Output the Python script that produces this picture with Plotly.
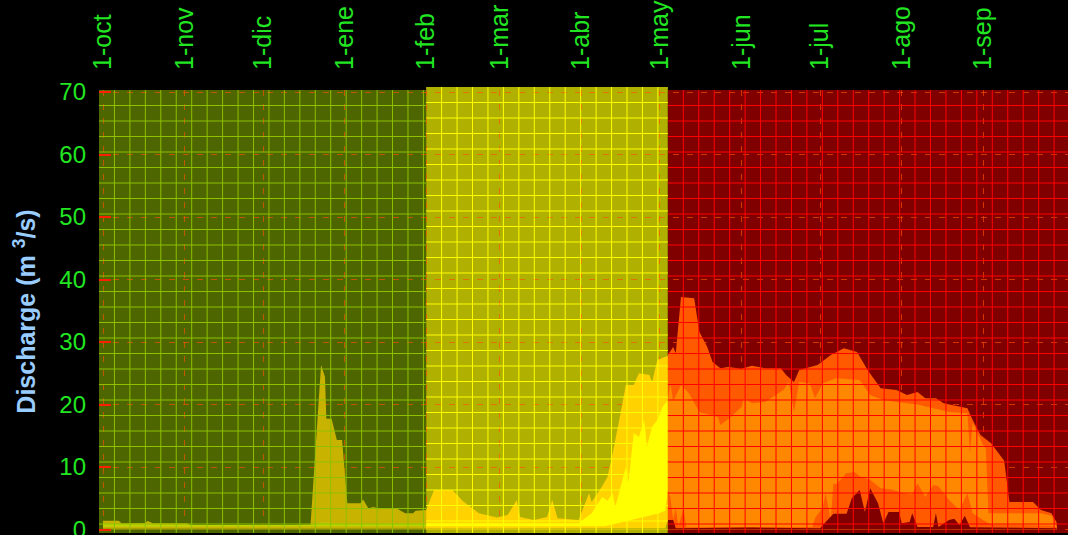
import plotly.graph_objects as go
from datetime import datetime, timedelta

# ---------------- axis labels ----------------
month_ticks = ["2022-10-01", "2022-11-01", "2022-12-01", "2023-01-01", "2023-02-01", "2023-03-01",
               "2023-04-01", "2023-05-01", "2023-06-01", "2023-07-01", "2023-08-01", "2023-09-01"]
month_labels = ["1-oct", "1-nov", "1-dic", "1-ene", "1-feb", "1-mar",
                "1-abr", "1-may", "1-jun", "1-jul", "1-ago", "1-sep"]
y_ticks = [0, 10, 20, 30, 40, 50, 60, 70]
y_title = "Discharge (m <sup>3</sup>/s)"

# season limits (green: oct-jan, yellow: feb-apr, red: may-sep)
season_edges = ["2022-09-29 11:30", "2023-02-01", "2023-05-04", "2023-10-03 07:00"]

# ---------------- green season ----------------
g_max_x = ["2022-10-01", "2022-10-07", "2022-10-08", "2022-10-17", "2022-10-18", "2022-10-20", "2022-11-02",
           "2022-11-04", "2022-11-20", "2022-12-05", "2022-12-19", "2022-12-23", "2022-12-24 12:00",
           "2022-12-25", "2022-12-27", "2022-12-29", "2022-12-31", "2023-01-02", "2023-01-07", "2023-01-08",
           "2023-01-10", "2023-01-12", "2023-01-14", "2023-01-21", "2023-01-24", "2023-01-27", "2023-01-28",
           "2023-02-01"]
g_max_y = [1.4, 1.4, 1.0, 1.05, 1.35, 1.0, 1.0, 0.6, 0.55, 0.6, 0.8, 26.3, 24.4, 17.7, 17.7, 14.3, 14.3,
           4.2, 4.2, 4.8, 3.4, 3.6, 3.3, 3.3, 2.6, 2.6, 3.0, 3.1]
g_q75_x = ["2022-10-01", "2022-10-20", "2022-11-04", "2022-12-19", "2022-12-23", "2023-01-02", "2023-02-01"]
g_q75_y = [0.9, 0.8, 0.7, 0.7, 1.1, 0.9, 1.0]
g_q25_x = ["2022-10-01", "2023-02-01"]
g_q25_y = [0.45, 0.5]
g_min_x = ["2022-10-01", "2023-02-01"]
g_min_y = [0.1, 0.1]

# ---------------- yellow season ----------------
y_max_x = ["2023-02-01", "2023-02-04", "2023-02-11", "2023-02-15", "2023-02-18", "2023-02-21", "2023-02-28",
           "2023-03-04", "2023-03-07 12:00", "2023-03-08 18:00", "2023-03-14", "2023-03-19", "2023-03-21",
           "2023-03-23", "2023-03-31", "2023-04-04", "2023-04-05", "2023-04-09", "2023-04-11", "2023-04-13",
           "2023-04-16", "2023-04-18", "2023-04-21", "2023-04-23", "2023-04-27", "2023-04-28", "2023-04-30",
           "2023-05-04"]
y_max_y = [3.1, 6.3, 6.3, 4.5, 3.6, 2.6, 1.9, 2.3, 4.7, 2.0, 1.5, 2.0, 4.7, 1.8, 1.5, 5.8, 4.4, 6.9, 8.4,
           12.2, 18.6, 23.1, 23.1, 25.0, 24.7, 23.6, 27.1, 27.8]
y_q75_x = ["2023-02-01", "2023-03-31", "2023-04-05", "2023-04-09", "2023-04-11", "2023-04-13", "2023-04-14",
           "2023-04-16", "2023-04-18", "2023-04-19", "2023-04-21", "2023-04-23", "2023-04-25", "2023-04-26",
           "2023-04-28", "2023-04-30", "2023-05-02", "2023-05-04"]
y_q75_y = [1.0, 1.0, 2.6, 5.2, 4.6, 5.8, 3.6, 6.9, 10.0, 7.5, 15.4, 14.8, 17.5, 13.2, 16.4, 17.5, 19.6, 20.7]
y_q25_x = ["2023-02-01", "2023-04-10", "2023-04-20", "2023-04-30", "2023-05-03", "2023-05-04"]
y_q25_y = [0.5, 0.5, 1.5, 2.5, 3.0, 6.3]
y_min_x = ["2023-02-01", "2023-05-03", "2023-05-04"]
y_min_y = [0.15, 0.2, 1.5]

# ---------------- red season ----------------
r_max_x = ["2023-05-04", "2023-05-06", "2023-05-07", "2023-05-09", "2023-05-14", "2023-05-16", "2023-05-19",
           "2023-05-21", "2023-05-24", "2023-05-27", "2023-06-01", "2023-06-05", "2023-06-10", "2023-06-16",
           "2023-06-18", "2023-06-21", "2023-06-23", "2023-06-30", "2023-07-05", "2023-07-10", "2023-07-15",
           "2023-07-19", "2023-07-24", "2023-07-30", "2023-08-03", "2023-08-07", "2023-08-10", "2023-08-14",
           "2023-08-17", "2023-08-26", "2023-08-28", "2023-08-31", "2023-09-04", "2023-09-08", "2023-09-09",
           "2023-09-11", "2023-09-20", "2023-09-23", "2023-09-27", "2023-09-29"]
r_max_y = [27.9, 29.2, 28.2, 37.2, 37.0, 31.6, 29.2, 26.8, 25.8, 26.0, 25.7, 26.2, 25.8, 25.8, 24.7, 23.6,
           25.5, 26.3, 27.9, 29.0, 28.4, 25.5, 22.6, 22.3, 21.5, 22.0, 21.0, 21.0, 20.2, 19.4, 17.5, 15.1,
           13.8, 11.6, 11.0, 4.4, 4.4, 3.1, 2.6, 1.1]
r_q75_x = ["2023-05-04", "2023-05-05", "2023-05-06", "2023-05-09", "2023-05-12", "2023-05-16", "2023-05-23",
           "2023-05-24", "2023-05-28", "2023-06-01", "2023-06-02", "2023-06-05", "2023-06-10", "2023-06-17",
           "2023-06-19", "2023-06-21", "2023-06-23", "2023-06-27", "2023-06-29", "2023-07-02", "2023-07-07",
           "2023-07-16", "2023-07-20", "2023-07-25", "2023-07-30", "2023-08-07", "2023-08-13", "2023-08-19",
           "2023-08-26", "2023-08-27", "2023-08-28", "2023-09-01", "2023-09-02", "2023-09-03", "2023-09-23",
           "2023-09-27", "2023-09-29"]
r_q75_y = [20.7, 23.4, 20.5, 23.1, 21.8, 18.8, 18.0, 16.7, 18.0, 19.6, 21.0, 20.2, 20.4, 22.3, 23.6, 18.8,
           23.6, 23.4, 21.0, 23.4, 24.2, 23.9, 21.5, 20.7, 20.4, 20.0, 19.4, 18.8, 18.6, 12.2, 17.0, 13.5,
           13.0, 2.6, 2.6, 2.2, 0.5]
r_q25_x = ["2023-05-04", "2023-05-05", "2023-05-06", "2023-05-07", "2023-05-08", "2023-05-10", "2023-05-11",
           "2023-06-28", "2023-06-29", "2023-07-02", "2023-07-03", "2023-07-05", "2023-07-06", "2023-07-07",
           "2023-07-11", "2023-07-14", "2023-07-16", "2023-07-20", "2023-07-24", "2023-07-28", "2023-08-02",
           "2023-08-05", "2023-08-07", "2023-08-10", "2023-08-13", "2023-08-15", "2023-08-19", "2023-08-23",
           "2023-08-26", "2023-08-28", "2023-09-01", "2023-09-04", "2023-09-27", "2023-09-29"]
r_q25_y = [6.3, 5.0, 1.5, 3.4, 0.5, 3.4, 0.35, 0.4, 1.8, 3.6, 5.8, 1.5, 7.4, 7.2, 9.0, 9.2, 8.5, 7.9, 6.6,
           6.4, 5.8, 5.6, 7.4, 5.2, 7.1, 6.9, 4.7, 3.1, 5.8, 2.6, 1.5, 0.8, 0.6, 0.3]
r_min_x = ["2023-05-04", "2023-05-06", "2023-05-07", "2023-06-05", "2023-07-01", "2023-07-02", "2023-07-06",
           "2023-07-11", "2023-07-13", "2023-07-16", "2023-07-18", "2023-07-20", "2023-07-23", "2023-07-25",
           "2023-07-27", "2023-07-31", "2023-08-01", "2023-08-04", "2023-08-05", "2023-08-07", "2023-08-13",
           "2023-08-14", "2023-08-15", "2023-08-19", "2023-08-21", "2023-08-23", "2023-08-25", "2023-08-27",
           "2023-09-29"]
r_min_y = [1.5, 1.5, 0.2, 0.3, 0.2, 0.7, 2.5, 2.5, 5.0, 6.3, 2.8, 6.6, 4.2, 1.0, 2.8, 2.8, 1.0, 1.2, 2.6,
           0.4, 0.4, 2.6, 0.4, 1.5, 1.7, 0.7, 2.2, 0.35, 0.2]

# ---------------- styling ----------------
seasons = [
    dict(bg="#4d6600", a="#c8b400", b="#bcd400", grid="#8fbf00", top=1.0,
         series=[(g_max_x, g_max_y), (g_q75_x, g_q75_y), (g_q25_x, g_q25_y), (g_min_x, g_min_y)]),
    dict(bg="#b0b000", a="#ffd200", b="#ffff00", grid="#ffff00", top=1.0068,
         series=[(y_max_x, y_max_y), (y_q75_x, y_q75_y), (y_q25_x, y_q25_y), (y_min_x, y_min_y)]),
    dict(bg="#800000", a="#ff5a00", b="#ff8800", grid="#ff0000", top=1.0,
         series=[(r_max_x, r_max_y), (r_q75_x, r_q75_y), (r_q25_x, r_q25_y), (r_min_x, r_min_y)]),
]

Y_MIN, Y_MAX = -0.56, 70.32
GRID_DX_DAYS = 5.88
GRID_DY = 2.48
FONT = "Liberation Sans"
GREEN_TXT = "#22e622"

fig = go.Figure()
shapes = []


def parse(s):
    return datetime.fromisoformat(s)


for i, s in enumerate(seasons):
    x0, x1 = season_edges[i], season_edges[i + 1]
    shapes.append(dict(type="rect", xref="x", yref="paper", x0=x0, x1=x1, y0=0, y1=s["top"],
                       fillcolor=s["bg"], line=dict(width=0), layer="below"))
    cols = [s["a"], s["b"], s["a"], s["bg"]]
    for (xs, ys), c in zip(s["series"], cols):
        fig.add_trace(go.Scatter(x=xs, y=ys, mode="lines", fill="tozeroy", fillcolor=c,
                                 line=dict(width=0, color=c), hoverinfo="skip", showlegend=False))
    # fine grid drawn over the data
    d0, d1 = parse(x0), parse(x1)
    t = d0 + timedelta(days=GRID_DX_DAYS)
    while t < d1:
        shapes.append(dict(type="line", xref="x", yref="paper", x0=t.isoformat(), x1=t.isoformat(),
                           y0=0, y1=s["top"], line=dict(color=s["grid"], width=1), layer="above"))
        t += timedelta(days=GRID_DX_DAYS)
    ytop = Y_MAX + (s["top"] - 1.0) * (Y_MAX - Y_MIN)
    yv = ytop - GRID_DY
    while yv > Y_MIN:
        shapes.append(dict(type="line", xref="x", yref="y", x0=x0, x1=x1, y0=yv, y1=yv,
                           line=dict(color=s["grid"], width=1), layer="above"))
        yv -= GRID_DY

fig.update_layout(
    width=1068, height=535,
    margin=dict(l=99, r=0, t=90, b=2),
    paper_bgcolor="black", plot_bgcolor="black",
    shapes=shapes,
    font=dict(family=FONT, color=GREEN_TXT),
    showlegend=False,
)
fig.update_xaxes(
    type="date", side="top", range=[season_edges[0], season_edges[-1]],
    tickvals=month_ticks, ticktext=month_labels, tickangle=-90,
    tickfont=dict(size=25, color=GREEN_TXT, family=FONT),
    showgrid=True, gridcolor="rgba(255,80,0,0.65)", griddash="6px,8px", gridwidth=1,
    ticks="", ticklabelstandoff=19, zeroline=False, showline=False, automargin=False,
)
fig.update_yaxes(
    range=[Y_MIN, Y_MAX], tickvals=y_ticks,
    tickfont=dict(size=24, color=GREEN_TXT, family=FONT),
    showgrid=True, gridcolor="rgba(255,80,0,0.65)", griddash="6px,8px", gridwidth=1,
    ticks="inside", ticklen=12, tickcolor="#ff2000", tickwidth=1.5,
    ticklabelstandoff=12, ticklabeloverflow="allow", zeroline=False, showline=False, automargin=False,
    title=dict(text=y_title, font=dict(size=25, color="#99ccff", family=FONT, weight="bold"), standoff=16),
)

fig.write_html("out.html", config={"displayModeBar": False},
               post_script="document.body.style.margin='0';document.body.style.overflow='hidden';")
